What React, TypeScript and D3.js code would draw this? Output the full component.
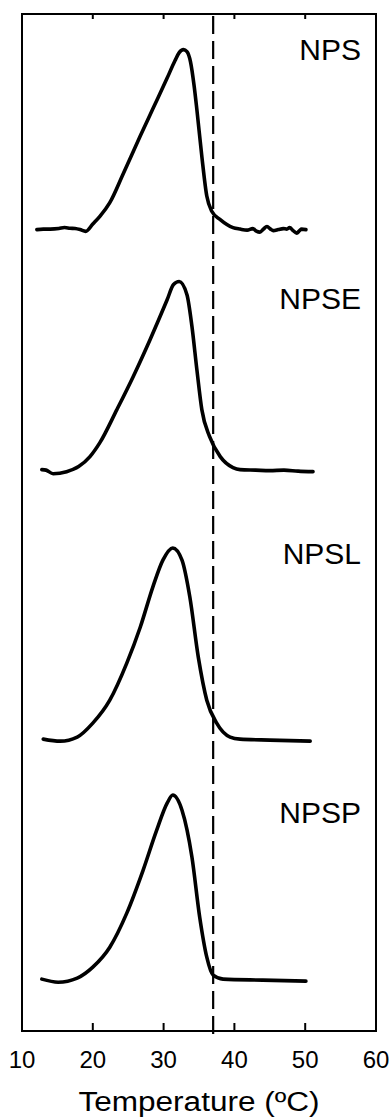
import React from "react";
import * as d3 from "d3";

// Temperature (°C) and relative heat-flow values (arbitrary units) per sample
const npsT = [12.1, 13.0, 14.0, 15.2, 16.0, 16.8, 17.5, 18.2, 19.0, 20.0, 21.0, 22.4, 24.3, 26.7, 28.5, 30.5, 31.6, 32.2, 32.8, 33.3, 33.8, 34.3, 34.7, 35.4, 36.1, 36.8, 38.0, 39.8, 40.8, 41.8, 42.6, 43.1, 43.6, 44.1, 44.6, 45.1, 45.5, 46.2, 46.9, 47.4, 47.8, 48.3, 48.8, 49.2, 49.5, 50.1];
const npsV = [0, 0.05, 0.05, 0.1, 0.2, 0.13, 0.1, 0, -0.17, 0.55, 1.3, 2.65, 5.5, 9.2, 11.9, 14.9, 16.6, 17.4, 17.7, 17.5, 16.5, 14.2, 11.8, 7.2, 3.3, 1.8, 0.98, 0.2, 0.05, -0.05, 0.1, -0.15, -0.25, 0.05, 0.3, 0.05, -0.1, 0.0, 0.1, 0.05, 0.2, -0.1, -0.35, -0.1, 0.05, 0];

const npseT = [12.8, 13.4, 14.4, 16.3, 18.0, 19.6, 21.0, 23.4, 25.7, 28.1, 30.5, 31.4, 32.2, 33.3, 34.0, 34.7, 35.4, 36.5, 38.0, 39.8, 40.8, 43.0, 45.0, 47.0, 49.0, 51.1];
const npseV = [0.1, 0.05, -0.3, -0.1, 0.4, 1.38, 2.75, 6.0, 9.24, 12.9, 16.8, 18.3, 18.6, 17.3, 14.2, 9.93, 6.0, 3.34, 1.38, 0.3, 0.1, 0.05, 0.0, 0.05, -0.05, -0.1];

const npslT = [13.0, 15.4, 17.8, 20.0, 22.4, 24.8, 26.7, 28.5, 29.9, 31.3, 32.6, 33.7, 34.9, 36.1, 37.5, 39.4, 40.8, 45.0, 50.7];
const npslV = [0.1, -0.1, 0.3, 1.67, 3.93, 7.57, 11.1, 15.1, 17.7, 18.9, 17.7, 14.1, 8.16, 3.93, 1.67, 0.3, 0.1, 0.0, -0.1];

const npspT = [12.8, 15.1, 17.8, 20.0, 22.4, 24.8, 27.1, 29.0, 30.5, 31.3, 32.6, 34.0, 35.1, 36.1, 37.0, 38.4, 44.0, 50.1];
const npspV = [0.1, -0.2, 0.2, 1.28, 3.24, 6.59, 10.8, 14.7, 17.4, 18.2, 16.7, 12.1, 6.19, 2.26, 0.49, 0.1, 0.0, -0.1];

const seriesNames = ["NPS", "NPSE", "NPSL", "NPSP"];
const seriesOffsets = [78.8, 55.1, 28.6, 5.0];
const xTicks = [10, 20, 30, 40, 50, 60];
const refTemp = 37;
const xTitle = "Temperature (ºC)";

const W = 391;
const H = 1120;
const M = { left: 22, right: 376, top: 14, bottom: 1031 };
const FONT = "'Liberation Sans', Arial, Helvetica, sans-serif";

export default function App() {
  const x = d3.scaleLinear().domain([10, 60]).range([M.left, M.right]);
  const y = d3.scaleLinear().domain([0, 100]).range([M.bottom, M.top]);

  const allT = [npsT, npseT, npslT, npspT];
  const allV = [npsV, npseV, npslV, npspV];

  const line = d3
    .line<[number, number]>()
    .x((d) => x(d[0]))
    .y((d) => y(d[1]))
    .curve(d3.curveMonotoneX);

  const labelBaselines = [60, 309, 564, 823];

  return (
    <>
      <style>{`body{margin:0}`}</style>
      <svg width={W} height={H} style={{ display: "block", background: "#fff" }}>
        {/* frame */}
        <rect
          x={M.left}
          y={M.top}
          width={M.right - M.left}
          height={M.bottom - M.top}
          fill="none"
          stroke="#000"
          strokeWidth={2}
        />
        {/* ticks */}
        {xTicks.map((t) => (
          <g key={t}>
            <line x1={x(t)} x2={x(t)} y1={M.bottom} y2={M.bottom - 8} stroke="#000" strokeWidth={2} />
            <line x1={x(t)} x2={x(t)} y1={M.top} y2={M.top + 5} stroke="#000" strokeWidth={2} />
            <text
              x={x(t)}
              y={1068}
              textAnchor="middle"
              fontFamily={FONT}
              fontSize={24}
              fill="#000"
            >
              {t}
            </text>
          </g>
        ))}
        {/* reference line */}
        <line
          x1={x(refTemp)}
          x2={x(refTemp)}
          y1={M.top + 2}
          y2={M.bottom + 6}
          stroke="#000"
          strokeWidth={2.2}
          strokeDasharray="18,7"
        />
        {/* curves */}
        {allT.map((ts, i) => {
          const pts: [number, number][] = ts.map((t, j) => [t, allV[i][j] + seriesOffsets[i]]);
          return (
            <path
              key={seriesNames[i]}
              d={line(pts) || ""}
              fill="none"
              stroke="#000"
              strokeWidth={3.6}
              strokeLinejoin="round"
              strokeLinecap="round"
            />
          );
        })}
        {/* series labels */}
        {seriesNames.map((n, i) => (
          <text
            key={n}
            x={361}
            y={labelBaselines[i]}
            textAnchor="end"
            fontFamily={FONT}
            fontSize={30}
            fill="#000"
          >
            {n}
          </text>
        ))}
        {/* axis title */}
        <text
          x={(M.left + M.right) / 2}
          y={1111}
          textAnchor="middle"
          fontFamily={FONT}
          fontSize={27}
          textLength={241}
          lengthAdjust="spacingAndGlyphs"
          fill="#000"
        >
          {xTitle}
        </text>
      </svg>
    </>
  );
}
